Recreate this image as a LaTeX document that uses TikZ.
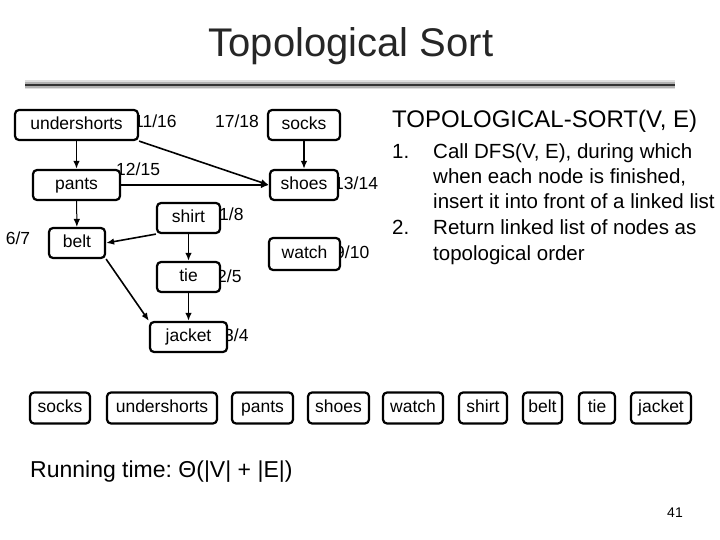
\documentclass[tikz,border=0pt]{standalone}
\usepackage{fontspec}
\setmainfont{Liberation Sans}
\frenchspacing
\usetikzlibrary{arrows.meta,positioning}

\begin{document}
\begin{tikzpicture}[x=1pt,y=-1pt,>={Latex[length=8pt,width=6.5pt]},
  vertex/.style={draw,line width=2.2pt,rounded corners=4pt,fill=white,minimum height=30pt,inner sep=0pt,
    text height=12.5pt,text depth=3.5pt,font=\fontsize{17.5}{17.5}\selectfont},
  listbox/.style={vertex,minimum height=31pt},
  stamp/.style={font=\fontsize{17.5}{17.5}\selectfont,inner sep=0pt},
  edge/.style={->,line width=1.6pt},
  body/.style={font=\fontsize{20.5}{25}\selectfont,anchor=base west,inner sep=0pt}]
  \useasboundingbox (0,0) rectangle (720,540);

  % heading and rule
  \node[font=\fontsize{40}{40}\selectfont,text=black!85,anchor=base] (title) at (351,57) {Topological Sort};
  \draw[line width=9pt,gray!25] (25,85) -- (675,85);
  \draw[line width=6pt,gray!60] (25,85) -- (675,85);
  \draw[line width=2.5pt,black!80] (25,85) -- (675,85);

  % discovery/finish times
  \node[stamp,anchor=west] (t-undershorts) at (134,121) {11/16};
  \node[stamp] (t-socks) at (237,121) {17/18};
  \node[stamp,anchor=west] (t-pants) at (116,169) {12/15};
  \node[stamp,anchor=west] (t-shoes) at (334,183) {13/14};
  \node[stamp,anchor=west] (t-shirt) at (219,214) {1/8};
  \node[stamp] (t-belt) at (18,238) {6/7};
  \node[stamp,anchor=west] (t-tie) at (217,276) {2/5};
  \node[stamp,anchor=west] (t-watch) at (335,252) {9/10};
  \node[stamp,anchor=west] (t-jacket) at (224,335) {3/4};

  % the graph
  \node[vertex,minimum width=123pt] (undershorts) at (76.5,125) {undershorts};
  \node[vertex,minimum width=72pt] (socks) at (304,125) {socks};
  \node[vertex,minimum width=87pt] (pants) at (76.5,185) {pants};
  \node[vertex,minimum width=68pt] (shoes) at (304,185) {shoes};
  \node[vertex,minimum width=63pt] (shirt) at (188.5,218) {shirt};
  \node[vertex,minimum width=56pt] (belt) at (77,243) {belt};
  \node[vertex,minimum width=71pt,minimum height=32pt] (watch) at (304.5,254) {watch};
  \node[vertex,minimum width=63pt] (tie) at (188.5,277) {tie};
  \node[vertex,minimum width=77pt] (jacket) at (188.5,337) {jacket};

  \draw[edge] (undershorts) -- (pants);
  \draw[edge] (undershorts.south east) -- (shoes.west);
  \draw[edge] (pants) -- (shoes);
  \draw[edge] (socks) -- (shoes);
  \draw[edge,line width=1pt] (pants) -- (belt);
  \draw[edge] (shirt.south west) -- (belt.east);
  \draw[edge] (shirt) -- (tie);
  \draw[edge] (tie) -- (jacket);
  \draw[edge] (belt.south east) -- (jacket.north west);

  % algorithm
  \node[body,font=\fontsize{24}{24}\selectfont] (algo) at (392,128) {TOPOLOGICAL-SORT(V, E)};
  \node[body] (num1) at (392,159) {1.};
  \node[body] (step1a) at (433,159) {Call DFS(V, E), during which};
  \node[body] (step1b) at (433,184) {when each node is finished,};
  \node[body] (step1c) at (433,209) {insert it into front of a linked list};
  \node[body] (num2) at (392,235) {2.};
  \node[body] (step2a) at (433,235) {Return linked list of nodes as};
  \node[body] (step2b) at (433,260) {topological order};

  % resulting order
  \foreach \name/\cx/\w in {socks/60/60,undershorts/162/110,pants/262.5/61,shoes/338.5/61,watch/413/60,shirt/483/48,belt/542.5/39,tie/597/36,jacket/661/60}
    \node[listbox,minimum width=\w pt] (order-\name) at (\cx,408) {\name};

  \node[anchor=base west,inner sep=0pt,font=\fontsize{23}{23}\selectfont] (runtime) at (30,477) {Running time: Θ(|V| + |E|)};
  \node[font=\fontsize{14}{14}\selectfont] (pagenum) at (675,513) {41};
\end{tikzpicture}
\end{document}
